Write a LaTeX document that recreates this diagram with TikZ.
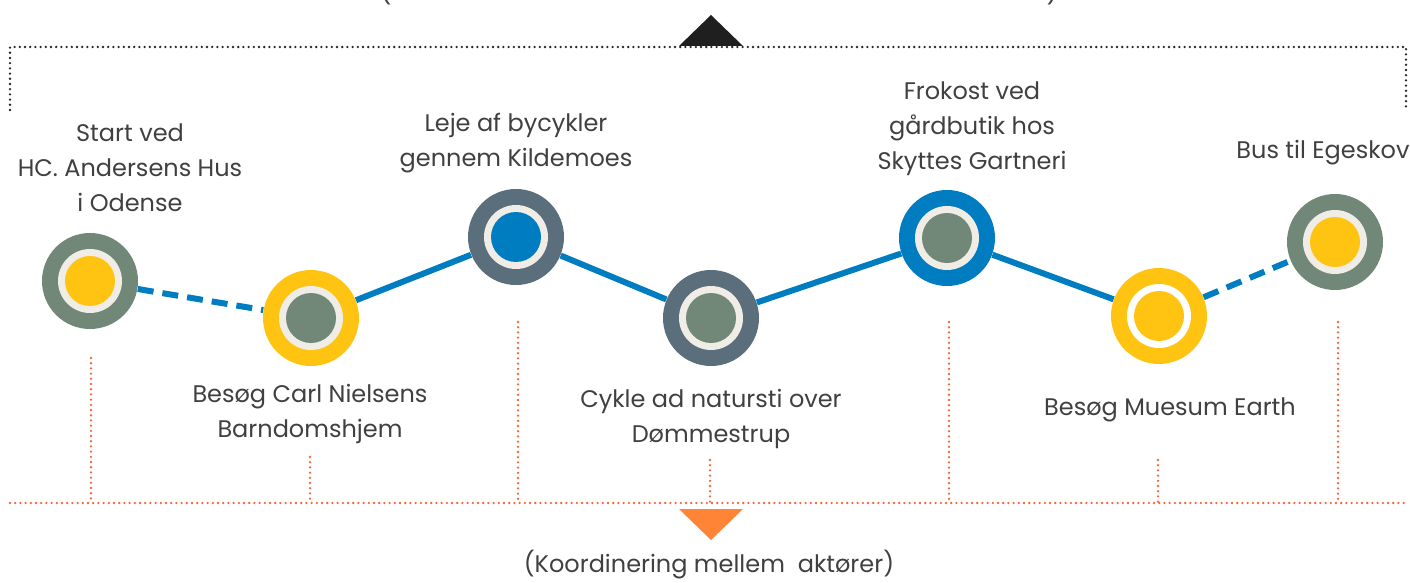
\documentclass[tikz,border=0pt]{standalone}
\usepackage{fontspec}
\setmainfont{Poppins}

\definecolor{sage}{HTML}{718878}
\definecolor{sun}{HTML}{FFC412}
\definecolor{slate}{HTML}{5A6E7C}
\definecolor{sea}{HTML}{007CC0}
\definecolor{cream}{HTML}{F0ECE6}
\definecolor{ink}{HTML}{404040}
\definecolor{rust}{HTML}{F5673A}
\definecolor{tang}{HTML}{FF8436}

\begin{document}
\begin{tikzpicture}[
    x=0.5pt,y=-0.5pt,
    stop/.style n args={3}{circle,inner sep=0pt,minimum size=48pt,fill=#1,
        path picture={
            \fill[#2] (path picture bounding box.center) circle[radius=16pt];
            \fill[#3] (path picture bounding box.center) circle[radius=12.5pt];
        }},
    route/.style={draw=sea,line width=3pt},
    hop/.style={route,dash pattern=on 8pt off 4.5pt},
    caption/.style={align=center,text=ink,inner sep=0pt,
        font=\fontsize{12}{17.5}\selectfont},
    inkdots/.style={draw=black!85,line width=1.3pt,line cap=round,
        dash pattern=on 0pt off 2.6pt},
    rustdots/.style={draw=rust,line width=1.3pt,line cap=round,
        dash pattern=on 0pt off 2.6pt}
]
\useasboundingbox (0,0) rectangle (1410,583);

% top bracket
\draw[inkdots] (10,110) -- (10,47) -- (1406,47) -- (1406,110);
\fill[black!88] (679,46) -- (711,15) -- (743,46) -- cycle;
\node[caption] (topl) at (386,-8) {(};
\node[caption] (topr) at (1052,-8) {)};

% bottom line
\draw[rustdots] (10,503) -- (1406,503);
\foreach \x/\y in {91/358,310/457,518/322,710/460,949/322,1158/460,1338/322}
    \draw[rustdots] (\x,\y) -- (\x,503);
\fill[tang] (679,509) -- (743,509) -- (711,540) -- cycle;
\node[caption] (koord) at (709,565) {(Koordinering mellem\ \ aktører)};

% stops
\node[stop={sage}{cream}{sun}]   (odense)  at (90,281)   {};
\node[stop={sun}{cream}{sage}]   (nielsen) at (311,318)  {};
\node[stop={slate}{cream}{sea}]  (leje)    at (516,237)  {};
\node[stop={slate}{cream}{sage}] (natur)   at (711,318)  {};
\node[stop={sea}{cream}{sage}]   (frokost) at (947,238)  {};
\node[stop={sun}{white}{sun}]    (earth)   at (1159,316) {};
\node[stop={sage}{cream}{sun}]   (bus)     at (1335,242) {};

\draw[hop] (odense) -- (nielsen);
\draw[route] (nielsen) -- (leje);
\draw[route] (leje) -- (natur);
\draw[route] (natur) -- (frokost);
\draw[route] (frokost) -- (earth);
\draw[hop] (earth) -- (bus);

% captions
\node[caption] (t1) at (130,168) {Start ved\\HC. Andersens Hus\\i Odense};
\node[caption] (t2) at (310,414) {Besøg Carl Nielsens\\Barndomshjem};
\node[caption] (t3) at (516,143) {Leje af bycykler\\gennem Kildemoes};
\node[caption] (t4) at (711,419) {Cykle ad natursti over\\Dømmestrup};
\node[caption] (t5) at (972,129) {Frokost ved\\gårdbutik hos\\Skyttes Gartneri};
\node[caption] (t6) at (1170,410) {Besøg Muesum Earth};
\node[caption] (t7) at (1323,153) {Bus til Egeskov};
\end{tikzpicture}
\end{document}
